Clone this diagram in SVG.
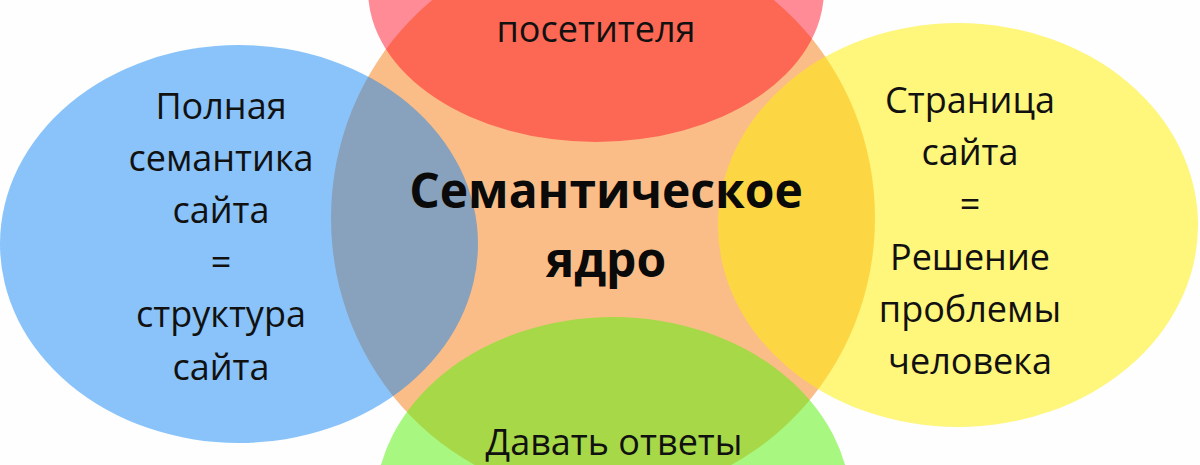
<svg xmlns="http://www.w3.org/2000/svg" width="1200" height="465" viewBox="0 0 1200 465">
<style>
  .lbl { font-family: "Open Sans", "Noto Sans", "DejaVu Sans", sans-serif; font-size: 36px; fill: #111111; text-anchor: middle; }
  .core-lbl { font-family: "Open Sans", "Noto Sans", "DejaVu Sans", sans-serif; font-size: 48px; font-weight: bold; fill: #0a0a0a; text-anchor: middle; }
  .core { fill: #FBBD88; }
  .red { fill: rgb(255,0,22); fill-opacity: 0.45; }
  .blue { fill: rgb(11,132,245); fill-opacity: 0.48; }
  .yellow { fill: rgb(255,238,3); fill-opacity: 0.52; }
  .green { fill: rgb(91,240,15); fill-opacity: 0.53; }
</style>
<rect x="0" y="0" width="1200" height="465" fill="#FEFEFE"/>
<g id="core">
  <ellipse class="core" cx="603" cy="218" rx="272" ry="280"/>
</g>
<g id="node-top">
  <ellipse class="red" cx="596" cy="-10" rx="228" ry="152"/>
  <text class="lbl" x="596" y="42">посетителя</text>
</g>
<g id="node-left">
  <ellipse class="blue" cx="239" cy="244" rx="239" ry="199"/>
  <text class="lbl" x="221" y="119">Полная</text>
  <text class="lbl" x="221" y="171">семантика</text>
  <text class="lbl" x="221" y="223">сайта</text>
  <text class="lbl" x="221" y="275">=</text>
  <text class="lbl" x="221" y="327">структура</text>
  <text class="lbl" x="221" y="380">сайта</text>
</g>
<g id="node-right">
  <ellipse class="yellow" cx="958" cy="225" rx="240" ry="202"/>
  <text class="lbl" x="970" y="113">Страница</text>
  <text class="lbl" x="970" y="165">сайта</text>
  <text class="lbl" x="970" y="217">=</text>
  <text class="lbl" x="970" y="270">Решение</text>
  <text class="lbl" x="970" y="322">проблемы</text>
  <text class="lbl" x="970" y="374">человека</text>
</g>
<g id="node-bottom">
  <ellipse class="green" cx="613" cy="507" rx="238" ry="190"/>
  <text class="lbl" x="614" y="455">Давать ответы</text>
</g>
<g id="connectors"/>
<g id="core-label">
  <text class="core-lbl" x="606" y="208">Семантическое</text>
  <text class="core-lbl" x="606" y="277">ядро</text>
</g>
</svg>
